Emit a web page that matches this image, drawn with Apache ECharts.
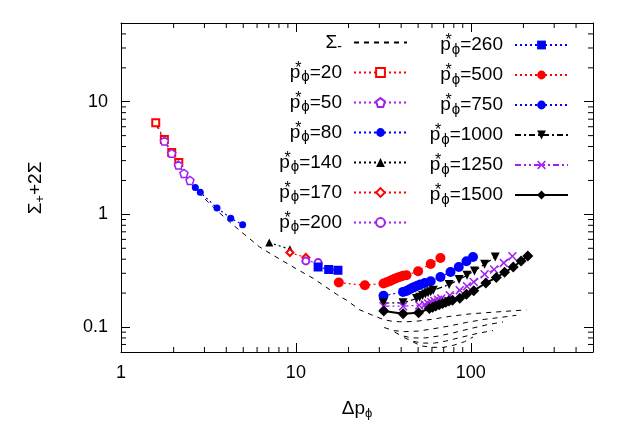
<!DOCTYPE html>
<html>
<head>
<meta charset="utf-8">
<script src="https://cdn.jsdelivr.net/npm/echarts@6/dist/echarts.min.js"></script>
<style>
  html, body { margin: 0; padding: 0; background: #fff; }
  #chart { width: 623px; height: 436px; }
</style>
</head>
<body>
<div id="chart"></div>
<script>
var X_MIN = 1, X_MAX = 500, Y_MIN = 0.06, Y_MAX = 50;
var xMinorTicks = [2, 3, 4, 5, 6, 7, 8, 9, 20, 30, 40, 50, 60, 70, 80, 90, 200, 300, 400];
var yMinorTicks = [0.07, 0.08, 0.09, 0.2, 0.3, 0.4, 0.5, 0.6, 0.7, 0.8, 0.9,
  2, 3, 4, 5, 6, 7, 8, 9, 20, 30, 40];

// Σ- curves (dashed)
var sigmaMain = [[1.58, 6.3], [1.77, 4.5], [1.95, 3.45], [2.14, 2.75], [2.48, 1.95], [2.84, 1.5],
  [3.54, 1.08], [4.24, 0.84], [5.1, 0.66], [6.2, 0.514], [7.4, 0.434], [8.1, 0.4], [10, 0.33],
  [12.6, 0.27], [17.1, 0.195], [19.5, 0.173], [23.2, 0.142], [28.9, 0.123], [32, 0.116],
  [36, 0.112], [42, 0.111], [50, 0.113], [60, 0.117], [75, 0.124], [100, 0.131], [140, 0.136], [208, 0.142]];
var sigmaB = [[32, 0.099], [36, 0.093], [42, 0.091], [50, 0.092], [60, 0.096], [75, 0.102],
  [95, 0.11], [120, 0.117], [150, 0.122], [182, 0.127]];
var sigmaC = [[36.7, 0.09], [40, 0.084], [46, 0.08], [55, 0.08], [65, 0.083], [80, 0.089],
  [100, 0.097], [125, 0.105], [153, 0.111]];
var sigmaD = [[41.6, 0.0805], [46, 0.075], [53, 0.072], [62, 0.072], [72, 0.075], [88, 0.081],
  [110, 0.088], [134, 0.093]];
var sigmaE = [[46.8, 0.0736], [52, 0.068], [60, 0.066], [70, 0.066], [80, 0.069], [92, 0.074], [103, 0.0815]];

// Σ+ + 2Σ for each p*
var p20 = [[1.58, 6.5], [1.77, 4.63], [1.95, 3.55], [2.14, 2.89]];
var p50 = [[1.77, 4.47], [1.95, 3.48], [2.13, 2.74], [2.29, 2.31], [2.48, 2.0]];
var p80 = [[2.66, 1.73], [2.84, 1.57], [3.54, 1.14], [4.24, 0.925], [4.96, 0.81]];
var p140 = [[7.04, 0.562], [9.24, 0.49]];
var p170 = [[9.24, 0.458], [11.4, 0.414]];
var p200 = [[11.4, 0.386], [13.4, 0.373]];
var p260 = [[13.4, 0.341], [15.4, 0.324], [17.4, 0.319]];
var p500 = [[17.6, 0.248], [24.8, 0.235], [31.7, 0.243], [33, 0.25], [34.4, 0.255], [35.5, 0.262],
  [36.7, 0.268], [38, 0.274], [39.5, 0.28], [41, 0.285], [42.9, 0.288], [50, 0.313], [59, 0.363], [67.1, 0.41]];
var p750 = [[31.7, 0.189], [41, 0.205], [42.9, 0.209], [44.5, 0.215], [46, 0.221], [47.7, 0.227],
  [49.5, 0.233], [51.5, 0.239], [54.6, 0.246], [59, 0.255], [67.1, 0.278], [76.6, 0.308],
  [85.4, 0.341], [94.5, 0.384], [103, 0.419]];
var p1000 = [[31.6, 0.163], [41, 0.164], [49, 0.179], [51, 0.184], [53, 0.19], [55, 0.196],
  [57, 0.201], [59, 0.206], [61, 0.212], [75.2, 0.238], [85.8, 0.264], [95.2, 0.288],
  [105, 0.315], [120, 0.361], [138, 0.419]];
var p1250 = [[31.7, 0.153], [41, 0.153], [50.7, 0.156], [54.6, 0.158], [57, 0.162], [59.5, 0.166],
  [62, 0.17], [65, 0.175], [67.8, 0.179], [75.9, 0.191], [86.5, 0.212], [95.2, 0.23],
  [104, 0.251], [120, 0.294], [136, 0.324], [154.5, 0.371], [173, 0.425]];
var p1500 = [[31.8, 0.139], [41, 0.131], [50.3, 0.134], [58, 0.146], [60.5, 0.15], [63, 0.154],
  [66, 0.158], [69, 0.162], [72, 0.166], [75, 0.17], [78.6, 0.173], [86.5, 0.18], [94.5, 0.195],
  [104, 0.21], [122, 0.246], [140, 0.275], [156, 0.306], [175, 0.341], [194, 0.385], [212, 0.428]];

var FONT = "'Liberation Sans', Arial, sans-serif";
var RED = "#ff0000", PURPLE = "#a020f0", BLUE = "#0000ff", BLACK = "#000000";
var DOT = [2, 3];
var PENTAGON = "path://M5,0 L10,3.8 L8.1,10 L1.9,10 L0,3.8 Z";
var DOWN_TRI = "path://M0,0 L10,0 L5,9 Z";
var CROSS = "path://M0,1.2 L1.2,0 L5,3.8 L8.8,0 L10,1.2 L6.2,5 L10,8.8 L8.8,10 L5,6.2 L1.2,10 L0,8.8 L3.8,5 Z";

function sigmaSeries(data) {
  return {
    name: "Σ-", type: "line", data: data, symbol: "none", z: 1,
    lineStyle: { color: BLACK, width: 1, type: [5, 5] },
    itemStyle: { color: "transparent" }
  };
}

function pSeries(name, data, color, symbol, size, dash, width, itemStyle) {
  return {
    name: name, type: "line", data: data, symbol: symbol, symbolSize: size, z: 3,
    lineStyle: { color: color, width: width, type: dash },
    itemStyle: itemStyle || { color: color }
  };
}

function minorTick(params, api) {
  var v0 = api.value(0), v1 = api.value(1), isY = api.value(2) === 1;
  var len = 5, st = { stroke: BLACK, lineWidth: 1 };
  if (!isY) {
    var b = api.coord([v0, Y_MIN]), t = api.coord([v0, Y_MAX]);
    return { type: "group", children: [
      { type: "line", shape: { x1: b[0], y1: b[1], x2: b[0], y2: b[1] - len }, style: st },
      { type: "line", shape: { x1: t[0], y1: t[1], x2: t[0], y2: t[1] + len }, style: st }
    ] };
  }
  var l = api.coord([X_MIN, v1]), r = api.coord([X_MAX, v1]);
  return { type: "group", children: [
    { type: "line", shape: { x1: l[0], y1: l[1], x2: l[0] + len, y2: l[1] }, style: st },
    { type: "line", shape: { x1: r[0], y1: r[1], x2: r[0] - len, y2: r[1] }, style: st }
  ] };
}

var minorData = xMinorTicks.map(function (v) { return [v, Y_MIN, 0]; })
  .concat(yMinorTicks.map(function (v) { return [X_MIN, v, 1]; }));

function legendLabel(name) {
  if (name === "Σ-") return "{n|Σ}{m|-}";
  return "{n|p}{s|*}{f|ϕ}{v|=" + name.split("=")[1] + "}";
}

var legendText = {
  color: BLACK, fontFamily: FONT, fontSize: 19,
  rich: {
    n: { fontSize: 19, lineHeight: 24, fontFamily: FONT, color: BLACK },
    v: { fontSize: 19, lineHeight: 24, fontFamily: FONT, color: BLACK, padding: [0, 7, 0, 0] },
    s: { fontSize: 16, lineHeight: 14, verticalAlign: "top", width: 1, fontFamily: FONT, color: BLACK },
    f: { fontSize: 15, lineHeight: 13, verticalAlign: "bottom", fontFamily: FONT, color: BLACK },
    m: { fontSize: 14, lineHeight: 12, verticalAlign: "bottom", fontFamily: FONT, color: BLACK, padding: [0, 7, 0, 0] }
  }
};

var titleRich = {
  a: { fontSize: 19, fontFamily: FONT, fill: BLACK, lineHeight: 22 },
  b: { fontSize: 13, fontFamily: FONT, fill: BLACK, lineHeight: 10, verticalAlign: "bottom" }
};

function logAxis(min, max, pos, showLabels) {
  return {
    type: "log", logBase: 10, min: min, max: max, position: pos,
    axisLine: { show: true, lineStyle: { color: BLACK, width: 1 } },
    axisTick: { show: true, inside: true, length: 9, lineStyle: { color: BLACK } },
    axisLabel: { show: showLabels, showMinLabel: false, showMaxLabel: false,
      color: BLACK, fontSize: 18, fontFamily: FONT, margin: 12 },
    splitLine: { show: false }
  };
}

var xBottom = logAxis(X_MIN, X_MAX, "bottom", true);
xBottom.axisLabel.showMinLabel = true;
var xTop = logAxis(X_MIN, X_MAX, "top", false);
var yLeft = logAxis(Y_MIN, Y_MAX, "left", true);
yLeft.axisLabel.margin = 13;
var yRight = logAxis(Y_MIN, Y_MAX, "right", false);

var chart = echarts.init(document.getElementById("chart"));
var option = {
  animation: false,
  backgroundColor: "#fff",
  grid: { left: 121, right: 30, top: 23, bottom: 84 },
  xAxis: [xBottom, xTop],
  yAxis: [yLeft, yRight],
  graphic: [
    {
      type: "text", x: 357, y: 409,
      style: { text: "{a|Δp}{b|ϕ}", rich: titleRich, align: "center", verticalAlign: "middle" }
    },
    {
      type: "text", x: 36, y: 188, rotation: Math.PI / 2,
      style: { text: "{a|Σ}{b|+}{a|+2Σ}", rich: titleRich, align: "center", verticalAlign: "middle" }
    }
  ],
  legend: [
    {
      data: ["Σ-", "p*ϕ=20", "p*ϕ=50", "p*ϕ=80", "p*ϕ=140", "p*ϕ=170", "p*ϕ=200"],
      orient: "vertical", align: "right", right: 215, top: 33, padding: 0,
      itemWidth: 53, itemHeight: 11, itemGap: 6,
      formatter: legendLabel, textStyle: legendText, selectedMode: false
    },
    {
      data: ["p*ϕ=260", "p*ϕ=500", "p*ϕ=750", "p*ϕ=1000", "p*ϕ=1250", "p*ϕ=1500"],
      orient: "vertical", align: "right", right: 54, top: 33, padding: 0,
      itemWidth: 53, itemHeight: 11, itemGap: 6,
      formatter: legendLabel, textStyle: legendText, selectedMode: false
    }
  ],
  series: [
    sigmaSeries(sigmaMain), sigmaSeries(sigmaB), sigmaSeries(sigmaC),
    sigmaSeries(sigmaD), sigmaSeries(sigmaE),
    pSeries("p*ϕ=20", p20, RED, "emptyRect", 7, DOT, 1.2),
    pSeries("p*ϕ=50", p50, PURPLE, PENTAGON, 8, DOT, 1.2,
      { color: "#fff", borderColor: PURPLE, borderWidth: 1.5 }),
    pSeries("p*ϕ=80", p80, BLUE, "circle", 7, DOT, 1.2),
    pSeries("p*ϕ=140", p140, BLACK, "triangle", 8, DOT, 1.2),
    pSeries("p*ϕ=170", p170, RED, "emptyDiamond", 7, DOT, 1.2),
    pSeries("p*ϕ=200", p200, PURPLE, "emptyCircle", 7, DOT, 1.2),
    pSeries("p*ϕ=260", p260, BLUE, "rect", 9, DOT, 1.2),
    pSeries("p*ϕ=500", p500, RED, "circle", 10, DOT, 1.2),
    pSeries("p*ϕ=750", p750, BLUE, "circle", 10, DOT, 1.2),
    pSeries("p*ϕ=1000", p1000, BLACK, DOWN_TRI, 9, [6, 3, 2, 3], 1.2),
    pSeries("p*ϕ=1250", p1250, PURPLE, CROSS, 9, [6, 3, 2, 3, 2, 3], 1.2),
    pSeries("p*ϕ=1500", p1500, BLACK, "diamond", 11, "solid", 2),
    {
      name: "minorTicks", type: "custom", data: minorData, renderItem: minorTick,
      encode: { x: 0, y: 1 }, silent: true, z: 0
    }
  ]
};
chart.setOption(option);
</script>
</body>
</html>
